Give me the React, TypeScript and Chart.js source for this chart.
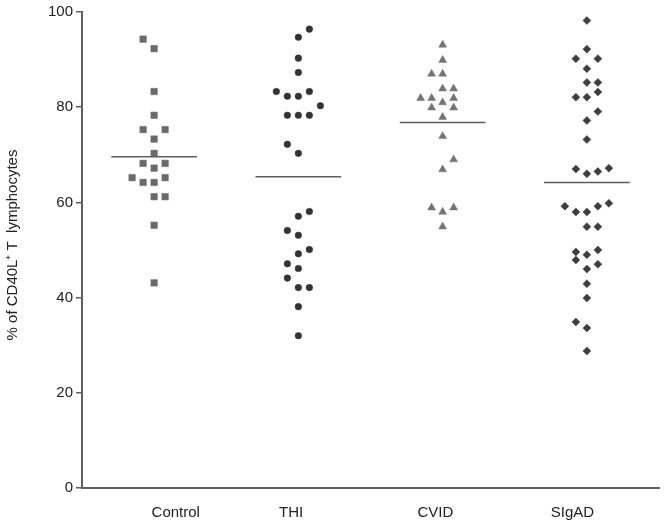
import React, { useEffect, useRef } from "react";
import { Chart, registerables } from "chart.js";

Chart.register(...registerables);

const categories = ["Control", "THI", "CVID", "SIgAD"];
const labelPositions = [0.65, 1.45, 2.45, 3.4];
const groupCenters = [0.5, 1.5, 2.5, 3.5];
const yTicks = [0, 20, 40, 60, 80, 100];

const controlValues = [94.3, 92.3, 83.3, 78.3, 75.3, 75.3, 73.3, 70.3, 68.2, 68.2, 67.2, 65.2, 65.2, 64.2, 64.2, 61.2, 61.2, 55.2, 43.1];
const controlSlots = [-1, 0, 0, 0, -1, 1, 0, 0, -1, 1, 0, -2, 1, -1, 0, 0, 1, 0, 0];

const thiValues = [96.4, 94.7, 90.3, 87.3, 83.3, 83.3, 82.3, 82.3, 80.3, 78.3, 78.3, 78.3, 72.2, 70.3, 58.1, 57.1, 54.1, 53.1, 50.1, 49.2, 47.1, 46.1, 44.1, 42.1, 42.1, 38.1, 32.0];
const thiSlots = [1, 0, 0, 0, -2, 1, -1, 0, 2, -1, 0, 1, -1, 0, 1, 0, -1, 0, 1, 0, -1, 0, -1, 0, 1, 0, 0];

const cvidValues = [93.1, 89.9, 87.0, 87.0, 83.9, 83.9, 81.9, 81.9, 81.9, 81.0, 79.9, 79.9, 77.9, 73.9, 69.0, 66.9, 58.9, 58.9, 58.0, 54.9];
const cvidSlots = [0, 0, -1, 0, 0, 1, -2, -1, 1, 0, -1, 1, 0, 0, 1, 0, -1, 1, 0, 0];

const sigadValues = [98.2, 92.2, 90.2, 90.2, 88.1, 85.2, 85.2, 83.2, 82.1, 82.1, 79.1, 77.2, 73.2, 67.0, 66.0, 66.5, 67.2, 59.2, 58.0, 58.0, 59.2, 59.8, 54.9, 54.9, 49.6, 49.0, 50.0, 47.9, 47.0, 46.0, 42.9, 39.9, 34.9, 33.6, 28.8];
const sigadSlots = [0, 0, -1, 1, 0, 0, 1, 1, -1, 0, 1, 0, 0, -1, 0, 1, 2, -2, -1, 0, 1, 2, 0, 1, -1, 0, 1, -1, 1, 0, 0, 0, -1, 0, 0];

const means = [69.6, 65.4, 76.8, 64.2];

const SLOT = 0.0763;
const HALF_LINE = 0.297;
const FONT = "'Liberation Sans', Arial, Helvetica, sans-serif";

function pts(center: number, values: number[], slots: number[]) {
  return values.map((v, i) => ({ x: center + slots[i] * SLOT, y: v }));
}

export default function App() {
  const ref = useRef<HTMLCanvasElement | null>(null);
  useEffect(() => {
    document.body.style.margin = "0";
    const canvas = ref.current!;
    const groups = [
      { v: controlValues, s: controlSlots, style: "rect", r: 4.6, c: "#6a6a6a" },
      { v: thiValues, s: thiSlots, style: "circle", r: 3.3, c: "#333333" },
      { v: cvidValues, s: cvidSlots, style: "triangle", r: 4.6, c: "#747474" },
      { v: sigadValues, s: sigadSlots, style: "rectRot", r: 4, c: "#3e3e3e" },
    ];
    const datasets: any[] = groups.map((g, gi) => ({
      type: "scatter",
      label: categories[gi],
      data: pts(groupCenters[gi], g.v, g.s),
      pointStyle: g.style,
      pointRadius: g.r,
      backgroundColor: g.c,
      borderColor: g.c,
      borderWidth: 0.5,
    }));
    means.forEach((m, gi) => {
      datasets.push({
        type: "line",
        label: categories[gi] + " mean",
        data: [
          { x: groupCenters[gi] - HALF_LINE, y: m },
          { x: groupCenters[gi] + HALF_LINE, y: m },
        ],
        borderColor: "#5e5e5e",
        borderWidth: 1.5,
        pointRadius: 0,
      });
    });

    const titlePlugin = {
      id: "yTitle",
      afterDraw(chart: any) {
        const ctx = chart.ctx;
        ctx.save();
        ctx.translate(13, 245);
        ctx.rotate(-Math.PI / 2);
        ctx.font = `15px ${FONT}`;
        ctx.fillStyle = "#222";
        ctx.textAlign = "center";
        ctx.textBaseline = "middle";
        ctx.fillText("% of CD40L\u207A T  lymphocytes", 0, 0);
        ctx.restore();
      },
    };

    const chart = new Chart(canvas, {
      type: "scatter",
      data: { datasets },
      plugins: [titlePlugin],
      options: {
        animation: false,
        responsive: false,
        layout: { padding: { top: 10, right: 8, left: 0, bottom: 0 } },
        plugins: { legend: { display: false }, tooltip: { enabled: false } },
        scales: {
          x: {
            type: "linear",
            min: 0,
            max: 4,
            afterBuildTicks: (scale: any) => {
              scale.ticks = labelPositions.map((p) => ({ value: p }));
            },
            afterFit: (scale: any) => {
              scale.height = 38;
            },
            ticks: {
              callback: (_v: any, i: number) => categories[i],
              font: { family: FONT, size: 15 },
              color: "#222",
              padding: 16,
              maxRotation: 0,
              autoSkip: false,
            },
            grid: { display: false, drawTicks: false },
            border: { display: true, color: "#5e5e5e", width: 2 },
          },
          y: {
            type: "linear",
            min: 0,
            max: 100,
            afterBuildTicks: (scale: any) => {
              scale.ticks = yTicks.map((t) => ({ value: t }));
            },
            afterFit: (scale: any) => {
              scale.width = 82;
            },
            ticks: {
              font: { family: FONT, size: 15 },
              color: "#222",
              padding: 3,
            },
            grid: { drawOnChartArea: false, drawTicks: true, tickLength: 6, color: "#5e5e5e", lineWidth: 1.5 },
            border: { display: true, color: "#5e5e5e", width: 2 },
          },
        },
      },
    } as any);
    return () => chart.destroy();
  }, []);
  return (
    <div style={{ width: 667, height: 526 }}>
      <canvas ref={ref} width={667} height={526} style={{ display: "block" }} />
    </div>
  );
}
